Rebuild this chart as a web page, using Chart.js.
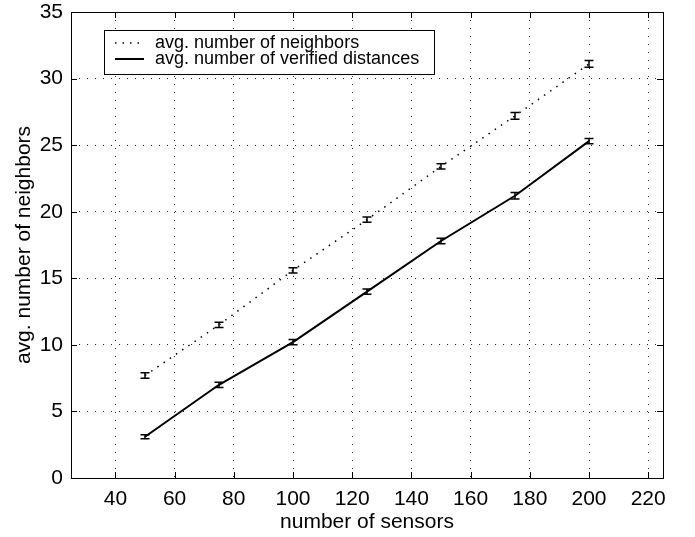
<!DOCTYPE html>
<html>
<head>
<meta charset="utf-8">
<script src="https://cdn.jsdelivr.net/npm/chart.js@4"></script>
<style>
  html, body { margin: 0; padding: 0; background: #fff; }
  #wrap { width: 695px; height: 537px; }
</style>
</head>
<body>
<div id="wrap"><canvas id="chart"></canvas></div>
<script>
// data
const sensors = [50, 75, 100, 125, 150, 175, 200];
const neighbors = [7.7, 11.5, 15.6, 19.4, 23.4, 27.2, 31.1];
const neighborsErr = [0.2, 0.2, 0.2, 0.2, 0.2, 0.25, 0.25];
const verified = [3.1, 7.0, 10.2, 14.0, 17.8, 21.2, 25.3];
const verifiedErr = [0.15, 0.2, 0.2, 0.2, 0.2, 0.25, 0.2];
const xTicks = [40, 60, 80, 100, 120, 140, 160, 180, 200, 220];
const yTicks = [0, 5, 10, 15, 20, 25, 30, 35];

const FONT = '"Liberation Sans", Arial, Helvetica, sans-serif';

function toPoints(xs, ys) {
    return xs.map((x, i) => ({ x: x, y: ys[i] }));
}

// error bars, inward ticks, box and legend drawn on top
const matlabLook = {
    id: 'matlabLook',
    afterDatasetsDraw(chart) {
        const ctx = chart.ctx;
        const xs = chart.scales.x, ys = chart.scales.y;
        const a = chart.chartArea;

        // error bars
        ctx.save();
        ctx.strokeStyle = '#000';
        ctx.lineWidth = 1.5;
        chart.data.datasets.forEach(ds => {
            ds.data.forEach((p, i) => {
                const e = ds.errors[i];
                const px = xs.getPixelForValue(p.x);
                const top = ys.getPixelForValue(p.y + e);
                const bot = ys.getPixelForValue(p.y - e);
                ctx.beginPath();
                ctx.moveTo(px, top); ctx.lineTo(px, bot);
                ctx.moveTo(px - 4.5, top); ctx.lineTo(px + 4.5, top);
                ctx.moveTo(px - 4.5, bot); ctx.lineTo(px + 4.5, bot);
                ctx.stroke();
            });
        });
        ctx.restore();

        // box + inward ticks
        ctx.save();
        ctx.strokeStyle = '#000';
        ctx.lineWidth = 1;
        ctx.strokeRect(a.left + 0.5, a.top + 0.5, a.right - a.left, a.bottom - a.top);
        ctx.beginPath();
        xTicks.forEach(v => {
            const px = Math.round(xs.getPixelForValue(v)) + 0.5;
            ctx.moveTo(px, a.bottom); ctx.lineTo(px, a.bottom - 6);
            ctx.moveTo(px, a.top); ctx.lineTo(px, a.top + 6);
        });
        yTicks.forEach(v => {
            const py = Math.round(ys.getPixelForValue(v)) + 0.5;
            ctx.moveTo(a.left, py); ctx.lineTo(a.left + 6, py);
            ctx.moveTo(a.right, py); ctx.lineTo(a.right - 6, py);
        });
        ctx.stroke();
        ctx.restore();

        // legend box
        ctx.save();
        const lx = 104, ly = 30, lw = 330, lh = 44;
        ctx.fillStyle = '#fff';
        ctx.fillRect(lx, ly, lw, lh);
        ctx.strokeStyle = '#000';
        ctx.lineWidth = 1;
        ctx.strokeRect(lx + 0.5, ly + 0.5, lw, lh);
        ctx.font = '18px ' + FONT;
        ctx.textBaseline = 'middle';
        ctx.fillStyle = '#000';
        chart.data.datasets.forEach((ds, i) => {
            const cy = ly + 13 + i * 16;
            ctx.beginPath();
            ctx.strokeStyle = '#000';
            ctx.lineWidth = ds.borderWidth;
            ctx.setLineDash(ds.borderDash || []);
            ctx.moveTo(115, cy); ctx.lineTo(144, cy);
            ctx.stroke();
            ctx.setLineDash([]);
            ctx.fillText(ds.label, 155, cy);
        });
        ctx.restore();
    }
};

new Chart(document.getElementById('chart'), {
    type: 'scatter',
    data: {
        datasets: [
            {
                label: 'avg. number of neighbors',
                data: toPoints(sensors, neighbors),
                errors: neighborsErr,
                showLine: true,
                borderColor: '#000',
                borderWidth: 1.5,
                borderDash: [1.5, 6],
                pointRadius: 0,
                fill: false
            },
            {
                label: 'avg. number of verified distances',
                data: toPoints(sensors, verified),
                errors: verifiedErr,
                showLine: true,
                borderColor: '#000',
                borderWidth: 2,
                pointRadius: 0,
                fill: false
            }
        ]
    },
    options: {
        responsive: true,
        maintainAspectRatio: false,
        animation: false,
        layout: { padding: { left: 0, right: 32, top: 12, bottom: 0 } },
        plugins: {
            legend: { display: false },
            tooltip: { enabled: false }
        },
        scales: {
            x: {
                type: 'linear',
                min: 25,
                max: 225,
                afterBuildTicks: s => { s.ticks = xTicks.map(v => ({ value: v })); },
                afterFit: s => { s.height = 59; s.paddingLeft = 0; s.paddingRight = 0; },
                grid: {
                    color: 'rgba(0,0,0,0.85)',
                    lineWidth: 1,
                    borderDash: [1, 7],
                    drawTicks: false
                },
                border: { display: false, dash: [1, 7] },
                ticks: {
                    color: '#000',
                    padding: 9,
                    maxRotation: 0,
                    font: { family: FONT, size: 21 }
                },
                title: {
                    display: true,
                    text: 'number of sensors',
                    color: '#000',
                    padding: { top: 0, bottom: 2 },
                    font: { family: FONT, size: 21 }
                }
            },
            y: {
                type: 'linear',
                min: 0,
                max: 35,
                afterBuildTicks: s => { s.ticks = yTicks.map(v => ({ value: v })); },
                afterFit: s => { s.width = 71; s.paddingTop = 0; s.paddingBottom = 0; },
                grid: {
                    color: 'rgba(0,0,0,0.85)',
                    lineWidth: 1,
                    borderDash: [1, 7],
                    drawTicks: false
                },
                border: { display: false, dash: [1, 7] },
                ticks: {
                    color: '#000',
                    padding: 8,
                    font: { family: FONT, size: 21 }
                },
                title: {
                    display: true,
                    text: 'avg. number of neighbors',
                    color: '#000',
                    padding: { top: 12, bottom: 0 },
                    font: { family: FONT, size: 21 }
                }
            }
        }
    },
    plugins: [matlabLook]
});
</script>
</body>
</html>
